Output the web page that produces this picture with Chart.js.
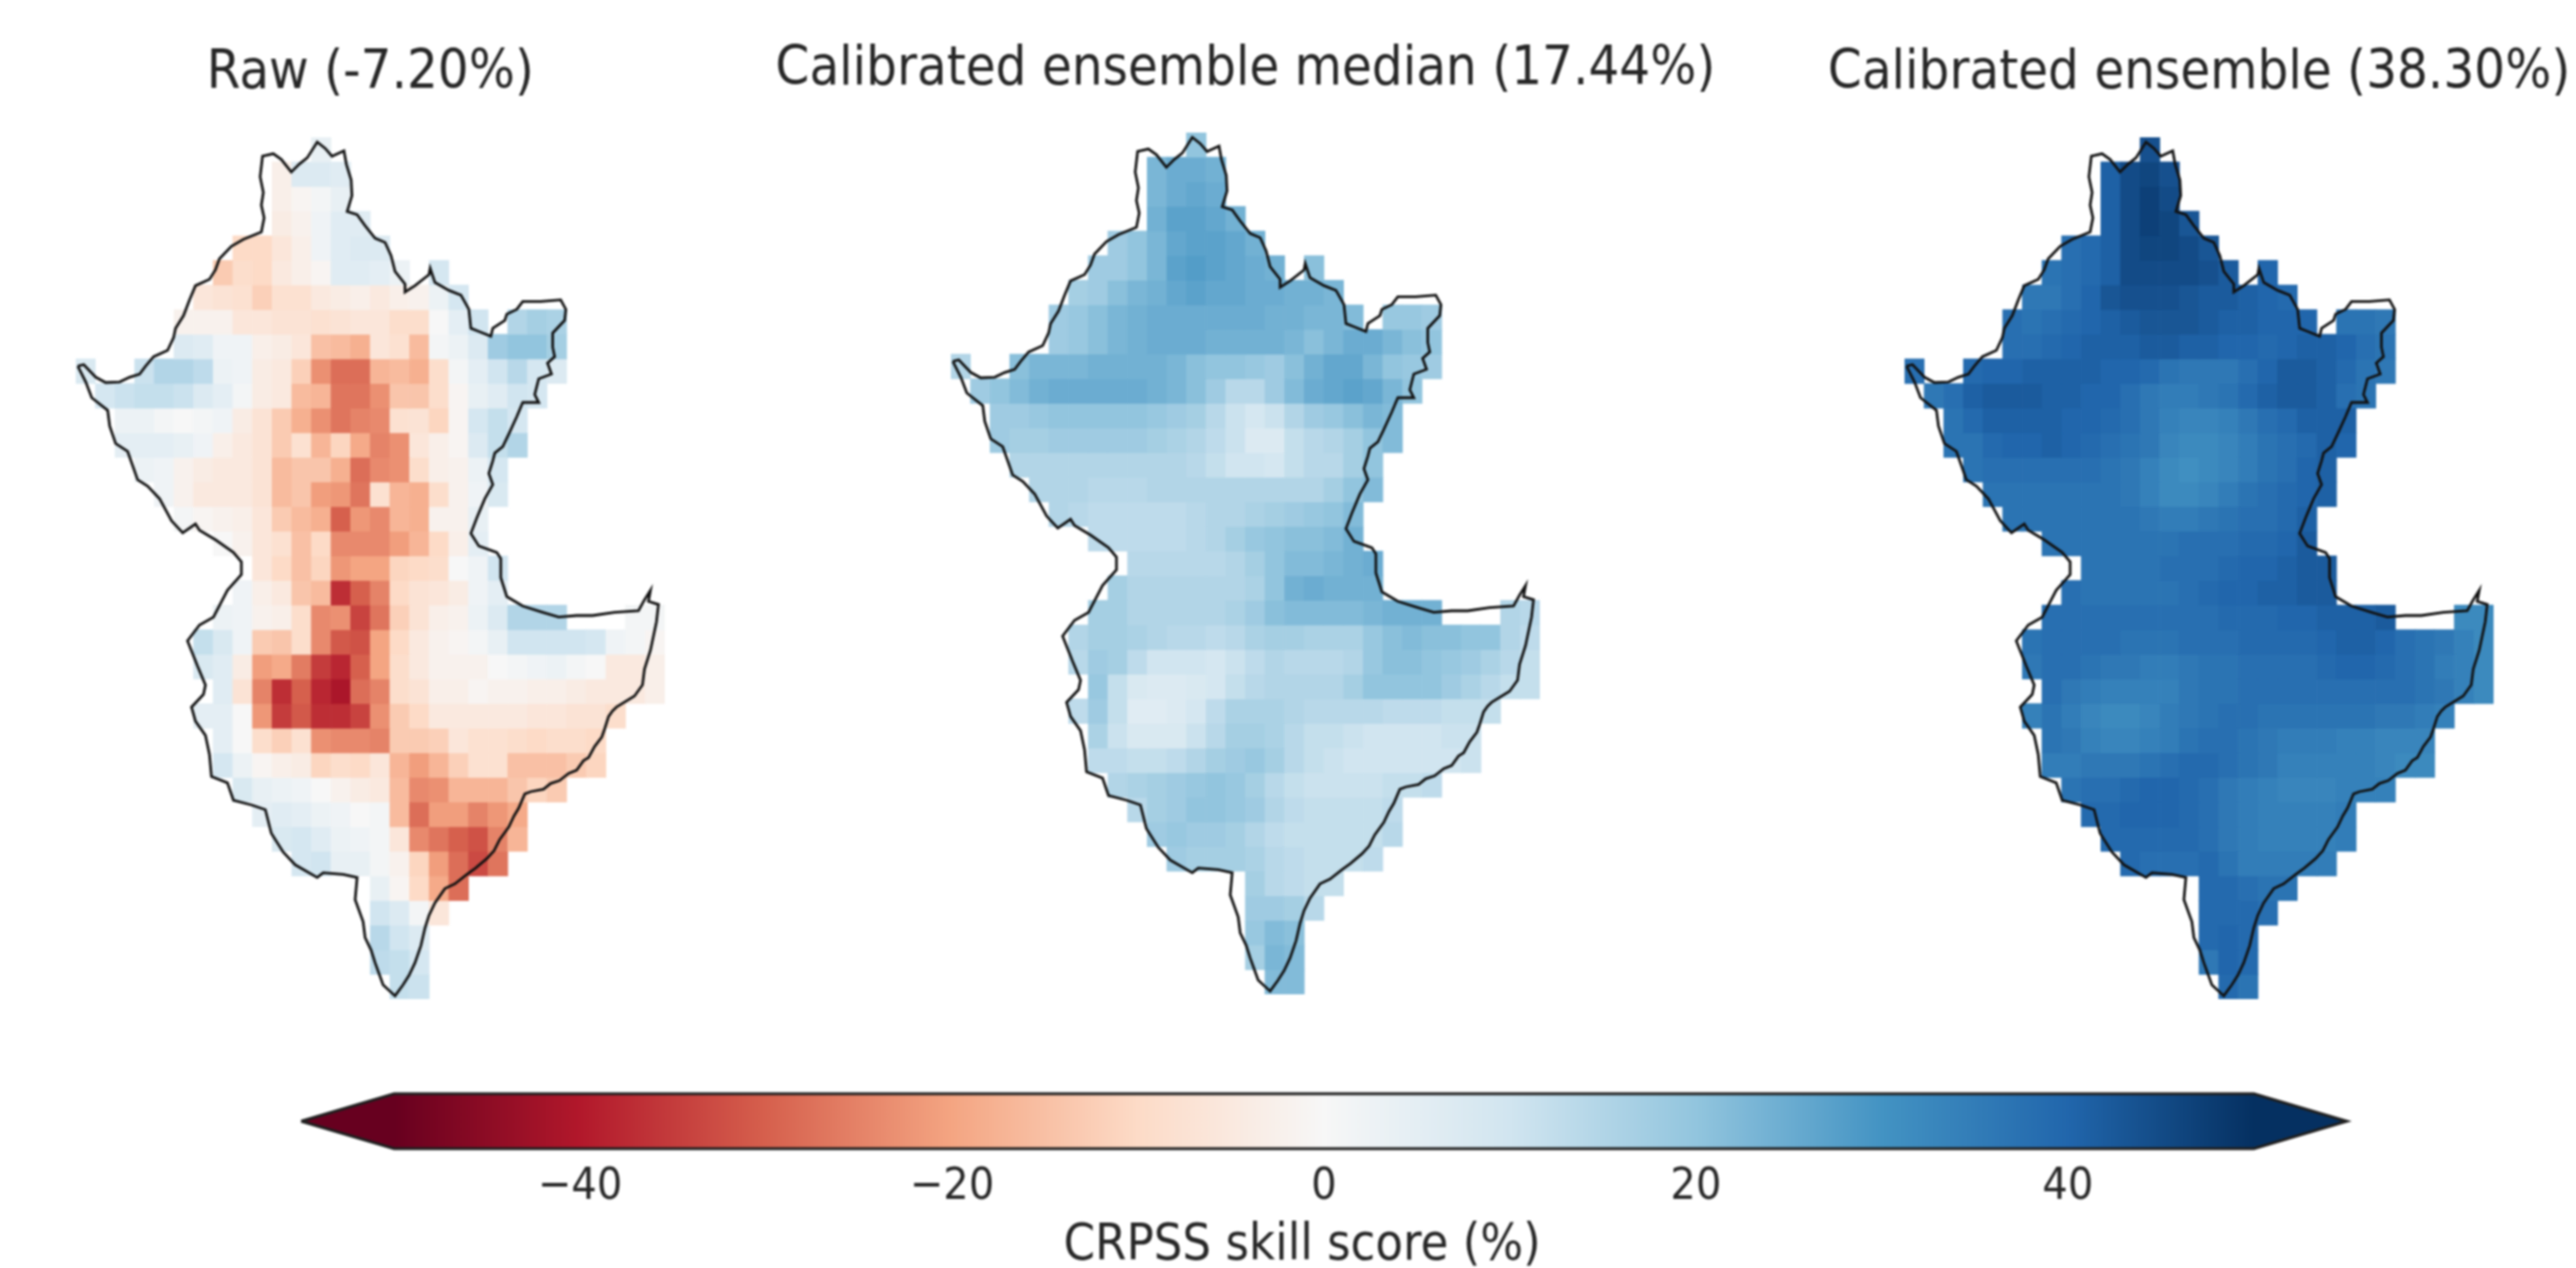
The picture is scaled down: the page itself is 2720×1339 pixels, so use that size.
<!DOCTYPE html>
<html>
<head>
<meta charset="utf-8">
<script src="https://cdn.jsdelivr.net/npm/chart.js@4/dist/chart.umd.js"></script>
<style>
  html, body { margin: 0; background: #fff; overflow: hidden; }
  #page { position: relative; width: 2720px; height: 1339px; }
  canvas { position: absolute; filter: blur(0.9px); }
</style>
</head>
<body>
<div id="page"></div>
<script>
const _ = null;
const panelTitles = ['Raw (-7.20%)', 'Calibrated ensemble median (17.44%)', 'Calibrated ensemble (38.30%)'];
const cbarTitle = 'CRPSS skill score (%)';
const columns = [...Array(30).keys()];

// first grid column of each row, the three maps share the same mask
const rowStart = [12,10,10,10,8,7,6,5,5,0,1,2,2,3,4,5,7,9,8,7,6,6,7,6,7,7,8,9,10,11,15,15,15,15,16];

const rawScore = [
  [4],
  [-3,7,7,6],
  [-3,-1,1,4],
  [-4,-2,2,6,6],
  [-10,-10,-6,-3,2,6,7,7],
  [-13,-9,-10,-5,-3,-1,6,6,5,3,_,9],
  [-6,-7,-8,-12,-8,-8,-5,-4,-3,-5,-3,-2,3,9],
  [-2,-2,-2,-6,-6,-7,-7,-8,-7,-6,-6,-9,-9,0,5,10,_,15,17,16],
  [7,6,2,2,-3,-4,-6,-15,-16,-18,-6,-8,-16,1,3,7,18,20,20,17],
  [8,_,_,11,15,15,13,3,2,-4,-5,-12,-23,-28,-28,-17,-16,-18,-9,1,5,10,14,9,7],
  [9,11,12,12,11,7,5,1,-4,-5,-16,-17,-27,-27,-23,-14,-14,-9,-1,4,6,10,9],
  [3,3,1,0,1,2,-4,-7,-13,-18,-23,-27,-25,-24,-8,-7,-11,-1,9,12,9],
  [5,5,5,4,2,-3,-5,-7,-13,-8,-17,-11,-19,-25,-23,-6,-3,-1,7,12,15],
  [3,2,-2,-4,-5,-5,-7,-16,-14,-14,-18,-28,-24,-23,-9,-3,-2,3,9],
  [2,-2,-5,-5,-5,-7,-16,-14,-21,-22,-27,-8,-17,-18,-9,-2,2,8],
  [1,-1,-2,-3,-6,-13,-16,-18,-30,-22,-24,-17,-18,-2,-2,4],
  [0,-2,-6,-8,-15,-10,-24,-24,-24,-21,-17,-10,-3,5],
  [-6,-10,-15,-11,-22,-20,-20,-11,-10,-9,0,2,10],
  [2,-3,-5,-14,-16,-37,-30,-25,-10,-7,-6,-4,2,5],
  [3,2,-2,-3,-9,-24,-23,-34,-27,-12,-7,-3,-2,3,7,15,15,15,_,_,_,1,1],
  [12,8,2,-13,-14,-9,-24,-31,-32,-20,-10,-5,-2,-1,1,4,10,10,10,10,9,2,1,-1],
  [8,6,-4,-21,-19,-26,-35,-38,-30,-20,-9,-5,-2,-2,-2,0,1,2,3,1,0,-5,-5,-3],
  [6,-7,-25,-37,-30,-38,-41,-28,-25,-9,-7,-3,-3,-1,-2,-2,-3,-3,-4,-5,-5,-5,-3],
  [5,5,0,-22,-35,-31,-37,-37,-34,-23,-13,-10,-5,-5,-5,-5,-5,-6,-6,-7,-7,-9],
  [5,0,-9,-12,-8,-23,-24,-24,-25,-13,-13,-12,-6,-8,-8,-9,-10,-9,-9,-10],
  [9,3,-1,-3,-4,-11,-9,-10,-6,-17,-21,-17,-12,-8,-8,-15,-15,-15,-13,-11],
  [8,4,3,2,0,-2,-4,-5,-16,-24,-23,-17,-17,-17,-14,-11,-13],
  [5,6,5,3,2,0,1,-16,-28,-21,-21,-25,-22,-19],
  [8,9,6,3,2,1,-6,-24,-27,-30,-32,-25,-17],
  [9,10,4,4,1,-2,-11,-21,-28,-33,-27],
  [4,-1,-10,-19,-28],
  [10,7,1,-6],
  [14,10,7],
  [13,12,9],
  [12,11]
];

const medianScore = [
  [20],
  [23,25,25,24],
  [23,25,26,25],
  [24,27,27,26,24],
  [18,20,23,26,27,27,26,24],
  [18,18,20,23,27,28,27,26,25,24,_,21],
  [17,18,21,23,24,26,27,26,26,25,25,24,24,23],
  [18,19,21,23,24,25,25,25,25,25,25,24,24,23,23,22,_,19,19,18],
  [18,19,21,23,24,25,25,25,24,24,24,24,23,21,23,25,25,23,21,20],
  [15,_,_,21,23,23,23,24,24,24,24,23,21,20,20,19,18,21,24,26,26,23,20,19,18],
  [18,20,22,24,25,25,25,25,25,24,23,21,18,14,14,18,22,25,26,27,26,23,20],
  [18,18,19,20,20,20,20,20,19,18,17,14,11,9,11,15,18,19,21,23,22],
  [18,17,17,18,18,18,18,18,17,16,15,13,11,7,7,12,14,15,17,20,22],
  [15,15,15,15,15,15,15,15,15,14,12,10,10,9,12,14,14,17,20],
  [15,15,15,14,14,14,15,15,15,15,15,15,15,15,15,17,20,22],
  [15,14,13,13,13,13,13,14,15,15,16,17,18,19,20,22],
  [13,13,13,13,13,14,15,17,19,20,21,21,22,24],
  [14,14,14,14,14,15,17,20,22,22,23,24,25],
  [17,15,15,15,15,15,15,16,20,24,25,24,24,24],
  [17,17,15,15,15,15,15,16,18,21,22,22,22,22,23,24,24,24,_,_,_,15,14],
  [15,17,17,16,15,14,14,13,14,16,17,17,16,16,16,19,21,22,21,21,20,20,15,13],
  [14,18,17,13,10,10,10,9,11,13,15,14,14,14,15,19,21,21,20,19,18,16,14,12],
  [19,12,8,7,7,8,9,12,14,15,15,15,15,17,20,20,20,20,18,16,14,12,12],
  [13,18,12,6,6,7,9,13,16,16,16,15,14,14,14,14,13,13,13,12,12,12],
  [16,11,8,8,8,11,14,17,17,16,14,12,12,11,10,10,10,10,11,11],
  [13,13,12,12,13,15,17,18,19,17,14,12,11,10,10,10,10,10,10,11],
  [15,16,17,18,19,20,19,17,14,12,11,11,11,11,12,12,13],
  [14,17,18,20,20,19,18,15,13,12,12,12,12,13],
  [18,19,18,18,17,15,13,12,12,12,12,12,14],
  [18,17,17,17,16,14,13,12,12,12,13],
  [17,14,13,12,12],
  [18,18,17,14],
  [19,22,21],
  [17,23,22],
  [22,22]
];

const ensembleScore = [
  [44],
  [41,45,46,44],
  [41,45,47,45],
  [41,45,47,46,43],
  [38,39,41,45,46,46,45,43],
  [37,38,39,41,45,45,45,45,44,42,_,40],
  [36,36,38,40,43,44,44,44,43,42,42,41,40,39],
  [38,37,38,39,40,41,42,43,43,43,42,41,41,40,40,40,_,37,37,36],
  [38,38,39,40,41,41,41,42,42,41,41,40,40,39,40,41,41,40,38,37],
  [38,_,_,39,40,40,41,41,41,41,40,40,39,37,36,36,36,38,40,42,42,41,39,37,36],
  [36,38,41,42,42,42,41,41,40,40,38,36,35,35,36,37,39,41,42,42,41,38,37],
  [37,39,41,41,41,41,40,40,39,38,36,34,33,33,34,36,38,39,41,41,41],
  [37,37,39,40,40,41,40,39,38,37,36,33,32,32,33,35,37,38,39,41,40],
  [37,38,38,38,38,38,38,37,36,34,32,31,32,33,35,37,38,40,41],
  [37,37,37,37,37,37,37,36,34,32,32,33,35,37,38,39,40,41],
  [37,37,37,37,37,37,37,36,35,35,36,37,38,38,39,41],
  [37,37,37,37,37,37,37,38,38,38,39,39,40,42],
  [37,37,37,37,38,38,38,39,40,40,41,42,42],
  [38,37,37,37,37,37,38,39,40,40,41,41,42,42],
  [38,38,38,38,38,38,38,38,38,39,39,39,40,40,41,41,41,42,_,_,_,32,32],
  [37,38,38,38,38,37,37,37,38,38,38,39,39,39,39,40,41,41,40,38,37,36,34,32],
  [36,38,38,37,36,36,35,35,36,37,37,38,38,38,38,39,40,40,39,38,37,35,34,32],
  [38,36,35,34,34,34,34,36,37,37,38,38,38,38,38,38,38,38,38,37,36,34,32],
  [34,37,35,33,32,32,33,35,36,37,38,38,37,37,37,37,37,37,36,36,35,34],
  [37,36,34,33,33,34,35,37,38,38,37,36,35,35,35,34,34,33,33,33],
  [35,35,36,36,36,37,38,39,39,38,37,36,34,34,34,34,34,33,32,32],
  [37,38,38,39,40,40,39,38,36,35,34,33,33,33,34,34,34],
  [39,39,40,40,40,39,38,36,35,34,34,34,34,35],
  [39,39,39,39,39,38,36,35,34,34,34,34,35],
  [39,38,38,38,39,37,35,35,35,35,35],
  [39,39,38,37,37],
  [39,39,39,38],
  [39,40,39],
  [36,40,39],
  [39,37]
];

const panelScores = [rawScore, medianScore, ensembleScore];

// basin outline
const boundaryX = [55,70,85,100,125,160,185,210,225,245,280,295,300,320,335,350,385,400,410,440,470,515,522,515,520,512,518,545,565,590,610,630,655,675,692,722,728,740,742,730,755,775,800,825,840,850,875,875,900,935,938,950,985,1015,1035,1040,1060,1090,1095,1125,1130,1155,1170,1215,1265,1278,1275,1245,1245,1250,1232,1242,1210,1200,1210,1170,1155,1135,1120,1100,1095,1085,1095,1075,1055,1040,1060,1105,1115,
  1115,1115,1130,1170,1220,1260,1305,1345,1400,1460,1475,1490,1485,1510,1505,1490,1475,1470,1450,1405,1395,1385,1375,1368,1350,1335,1322,1305,1285,1262,1240,1222,1190,1175,1160,1148,1135,1112,1098,1080,1052,1030,1000,975,950,935,925,915,900,885,870,850,820,810,800,790,775,770,750,755,720,670,655,600,570,540,525,490,445,430,390,385,375,350,340,370,375,355,330,360,395,430,465,465,
  445,400,360,350,318,290,260,230,205,180,150,135,130,90,75,55];
const boundaryY = [770,765,785,805,822,820,805,795,770,740,720,680,650,610,560,515,495,465,430,390,368,345,300,260,220,170,105,97,115,155,130,110,60,80,105,88,130,180,230,280,290,325,365,378,420,470,510,535,515,480,460,505,530,545,590,650,660,675,650,625,605,590,565,565,560,590,625,665,710,740,760,795,810,860,885,885,930,985,1025,1045,1070,1110,1145,1190,1250,1300,1340,1360,1380,
  1400,1440,1500,1530,1550,1565,1560,1560,1550,1545,1510,1480,1515,1525,1580,1670,1730,1780,1815,1850,1862,1880,1920,1945,1975,2010,2020,2050,2060,2083,2092,2110,2118,2125,2170,2195,2230,2270,2305,2330,2360,2380,2410,2425,2470,2510,2550,2605,2660,2700,2730,2765,2730,2695,2660,2620,2580,2530,2460,2390,2380,2375,2390,2350,2310,2250,2175,2160,2145,2090,2070,2000,1940,1895,1850,1810,1780,1720,1640,1590,1565,1480,1430,1390,
  1360,1320,1290,1270,1298,1260,1190,1150,1130,1040,1015,960,910,870,820,770];

const cbarTicks = [-40, -20, 0, 20, 40];
const cbarOutlineX = [-55, -50, 50, 55, 50, -50, -55];
const cbarOutlineY = [0.5, 1, 1, 0.5, 0, 0, 0.5];
// RdBu_r stops from -50 to 50
const cmapStops = ['#67001f','#b2182b','#d6604d','#f4a582','#fddbc7','#f7f7f7','#d1e5f0','#92c5de','#4393c3','#2166ac','#053061'];

function hexToRgb(h) {
    return [1, 3, 5].map(i => parseInt(h.slice(i, i + 2), 16));
}

function scoreColor(v) {
    const t = Math.min(Math.max((v + 50) / 10, 0), 10);
    const i = Math.min(Math.floor(t), 9);
    const a = hexToRgb(cmapStops[i]);
    const b = hexToRgb(cmapStops[i + 1]);
    const c = a.map((x, k) => Math.round(x + (b[k] - x) * (t - i)));
    return `rgb(${c[0]},${c[1]},${c[2]})`;
}

const textFont = "'DejaVu Sans Condensed', 'DejaVu Sans', sans-serif";
const textColor = '#262626';

// canvas left and width, map top and title centre per panel
const panelBoxes = [
    { left: 80, width: 622, top: 145, titleY: 78 },
    { left: 795, width: 1040, top: 140, titleY: 74 },
    { left: 1924, width: 796, top: 145, titleY: 78 }
];
const mapWidth = 622;
const mapHeight = 910;

// chart.js squeezes its own title into the plot width, so draw it here
const captionPlugin = {
    id: 'caption',
    afterDraw(chart, args, opts) {
        const c = chart.ctx;
        c.save();
        c.font = `${opts.size}px ${textFont}`;
        c.fillStyle = textColor;
        c.textAlign = 'center';
        c.textBaseline = 'middle';
        c.fillText(opts.text, opts.x, opts.y);
        c.restore();
    }
};

function addCanvas(left, top, width, height) {
    const c = document.createElement('canvas');
    c.width = width;
    c.height = height;
    c.style.left = left + 'px';
    c.style.top = top + 'px';
    document.getElementById('page').appendChild(c);
    return c.getContext('2d');
}

function mapDatasets(scores) {
    const rows = scores.map((row, r) => {
        const cells = columns.map(() => null);
        const colors = columns.map(() => 'rgba(0,0,0,0)');
        row.forEach((v, i) => {
            if (v === null) return;
            cells[rowStart[r] + i] = [r, r + 1];
            colors[rowStart[r] + i] = scoreColor(v);
        });
        return {
            type: 'bar',
            data: cells,
            backgroundColor: colors,
            borderWidth: 0,
            barPercentage: 1,
            categoryPercentage: 1,
            grouped: false,
            order: 2
        };
    });
    rows.push({
        type: 'line',
        data: boundaryX.map((x, i) => ({ x: x, y: boundaryY[i] })),
        xAxisID: 'bx',
        yAxisID: 'by',
        borderColor: '#111111',
        borderWidth: 2.8,
        pointRadius: 0,
        tension: 0,
        fill: false,
        clip: false,
        order: 1
    });
    return rows;
}

panelScores.forEach((scores, p) => {
    const box = panelBoxes[p];
    const ctx = addCanvas(box.left, 0, box.width, box.top + mapHeight + 30);
    new Chart(ctx, {
        data: { labels: columns, datasets: mapDatasets(scores) },
        plugins: [captionPlugin],
        options: {
            responsive: false,
            animation: false,
            events: [],
            layout: { padding: { left: (box.width - mapWidth) / 2, right: (box.width - mapWidth) / 2, top: box.top, bottom: 30 } },
            plugins: {
                legend: { display: false },
                tooltip: { enabled: false },
                caption: { text: panelTitles[p], x: box.width / 2, y: box.titleY, size: 57 }
            },
            scales: {
                x: { type: 'category', display: false, stacked: false, offset: true, grid: { display: false } },
                y: { type: 'linear', display: false, min: 0, max: 35, reverse: true },
                // outline units are the ones it was traced in
                bx: { type: 'linear', display: false, min: 50, max: 1526, position: 'bottom' },
                by: { type: 'linear', display: false, min: 45, max: 2775, reverse: true, position: 'left' }
            }
        }
    });
});

// colour bar
const cbarCtx = addCanvas(300, 1130, 2200, 209);
new Chart(cbarCtx, {
    type: 'scatter',
    data: {
        datasets: [{
            data: cbarOutlineX.map((x, i) => ({ x: x, y: cbarOutlineY[i] })),
            showLine: true,
            tension: 0,
            pointRadius: 0,
            borderColor: '#1f1f1f',
            borderWidth: 3,
            clip: false,
            fill: 'shape',
            backgroundColor: c => {
                const area = c.chart.chartArea;
                if (!area) return '#ffffff';
                const xs = c.chart.scales.x;
                const g = c.chart.ctx.createLinearGradient(xs.getPixelForValue(-50), 0, xs.getPixelForValue(50), 0);
                cmapStops.forEach((col, i) => g.addColorStop(i / 10, col));
                return g;
            }
        }]
    },
    plugins: [captionPlugin],
    options: {
        responsive: false,
        animation: false,
        events: [],
        layout: { padding: { left: 18, right: 22, top: 25, bottom: 0 } },
        plugins: {
            legend: { display: false },
            tooltip: { enabled: false },
            caption: { text: cbarTitle, x: 1075, y: 186, size: 53 }
        },
        scales: {
            x: {
                type: 'linear',
                min: -55,
                max: 55,
                grid: { display: false },
                border: { display: false },
                afterBuildTicks: s => { s.ticks = cbarTicks.map(v => ({ value: v })); },
                afterFit: s => { s.height = 126; },
                ticks: {
                    autoSkip: false,
                    maxRotation: 0,
                    padding: 5,
                    color: textColor,
                    font: { family: textFont, size: 47 },
                    callback: v => String(v).replace('-', '\u2212')
                }
            },
            y: { type: 'linear', display: false, min: 0, max: 1 }
        }
    }
});
</script>
</body>
</html>
